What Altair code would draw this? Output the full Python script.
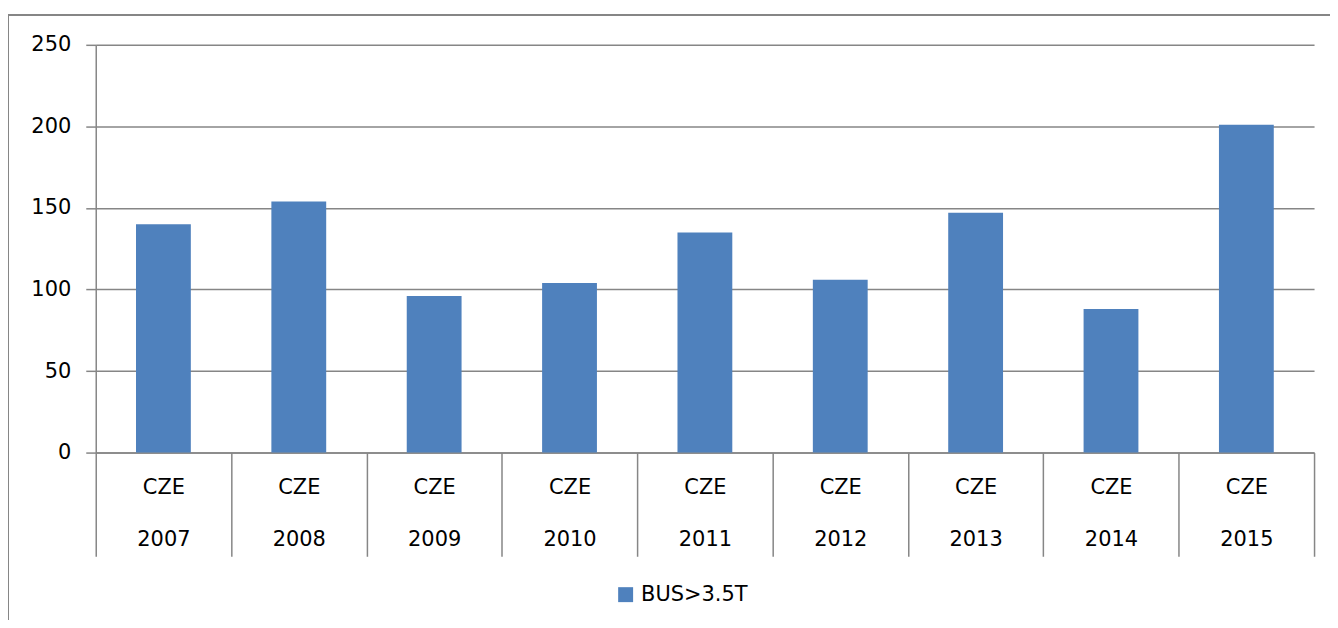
import altair as alt
import pandas as pd

countries = ["CZE"] * 9
years = ["2007", "2008", "2009", "2010", "2011", "2012", "2013", "2014", "2015"]
values = [140, 154, 96, 104, 135, 106, 147, 88, 201]
series = "BUS>3.5T"

df = pd.DataFrame({"country": countries, "year": years, "value": values, "series": [series] * len(years)})

GRAY = "#868686"
FONT = "DejaVu Sans"
W, H = 1222, 409

bars = alt.Chart(df).mark_bar(width={"band": 0.405}).encode(
    x=alt.X(
        "year:N",
        sort=years,
        scale=alt.Scale(paddingInner=0, paddingOuter=0),
        axis=alt.Axis(
            title=None,
            labelExpr="datum.value ? ['CZE', datum.value] : ''",
            labelAngle=0,
            labelFontSize=21,
            labelFont=FONT,
            labelColor="#000000",
            labelLineHeight=52,
            labelBaseline="middle",
            labelPadding=-69,
            tickBand="extent",
            tickSize=104,
            tickColor=GRAY,
            tickWidth=1.5,
            domainColor=GRAY,
            domainWidth=1.5,
        ),
    ),
    y=alt.Y(
        "value:Q",
        scale=alt.Scale(domain=[0, 250], nice=False),
        axis=alt.Axis(
            title=None,
            values=[0, 50, 100, 150, 200, 250],
            labelFontSize=21,
            labelFont=FONT,
            labelColor="#000000",
            labelPadding=15,
            tickSize=10,
            tickColor=GRAY,
            tickWidth=1.5,
            domainColor=GRAY,
            domainWidth=1.5,
            grid=True,
            gridColor=GRAY,
            gridWidth=1.5,
        ),
    ),
    color=alt.Color(
        "series:N",
        scale=alt.Scale(range=["#4F81BD"]),
        legend=alt.Legend(
            title=None,
            orient="none",
            legendX=521,
            legendY=541,
            symbolType="square",
            symbolSize=225,
            symbolStrokeWidth=0,
            labelFontSize=21,
            labelFont=FONT,
            labelColor="#000000",
            labelOffset=5,
        ),
    ),
)

one = pd.DataFrame({"a": [0]})
frame_left = alt.Chart(one).mark_rule(color=GRAY, strokeWidth=2).encode(
    x=alt.value(-88), y=alt.value(-30), y2=alt.value(580)
)
frame_top = alt.Chart(one).mark_rule(color=GRAY, strokeWidth=2).encode(
    x=alt.value(-89), x2=alt.value(1240), y=alt.value(-30)
)

chart = alt.layer(bars, frame_left, frame_top).properties(
    width=W,
    height=H,
    autosize=alt.AutoSizeParams(type="none"),
    padding={"left": 88, "top": 36, "right": 16, "bottom": 167},
    background="white",
).configure_view(strokeWidth=0)

chart.save("out.html", embed_options={"renderer": "svg", "actions": False})
